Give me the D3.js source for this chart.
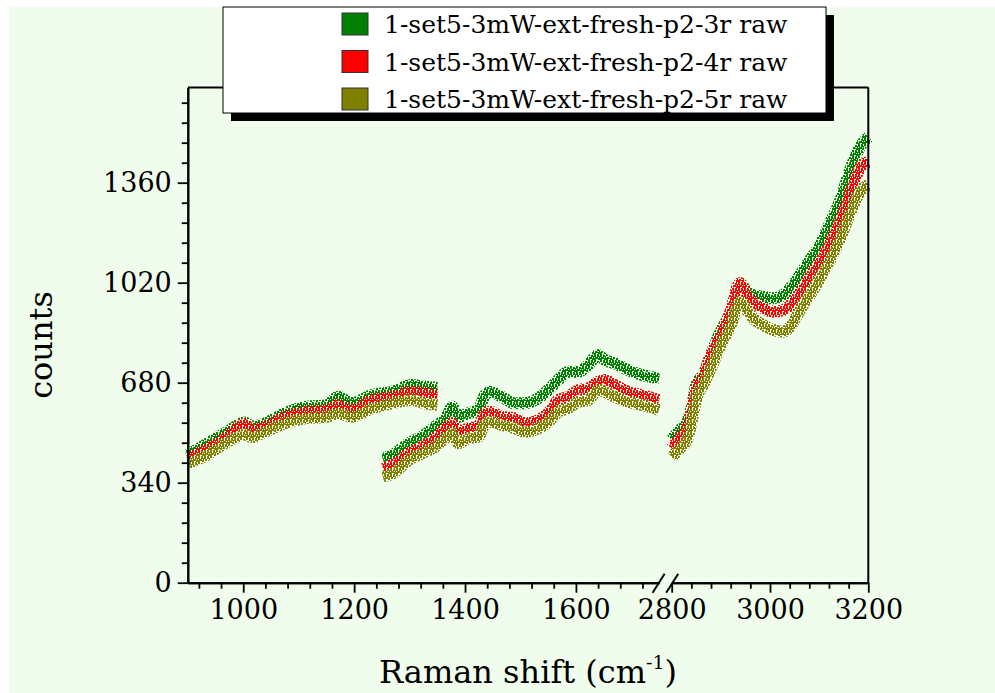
<!DOCTYPE html>
<html>
<head>
<meta charset="utf-8">
<script src="https://cdn.jsdelivr.net/npm/d3@7"></script>
<style>
  body { margin: 0; background: #fff; }
  svg { display: block; }
</style>
</head>
<body>
<svg id="chart" width="995" height="693"></svg>
<script>
// series
const seriesNames = [
    "1-set5-3mW-ext-fresh-p2-3r raw",
    "1-set5-3mW-ext-fresh-p2-4r raw",
    "1-set5-3mW-ext-fresh-p2-5r raw"
];
const seriesColors = ["#008000", "#ff0000", "#808000"];

// ticks
const yTicks = [0, 340, 680, 1020, 1360];
const xTicksLeft = [1000, 1200, 1400, 1600];
const xTicksRight = [2800, 3000, 3200];

// window A (900 - 1350 cm-1)
const wnA    = [900, 931, 967, 1003, 1015, 1039, 1075, 1111, 1151, 1171, 1196, 1232, 1268, 1304, 1328, 1350];
const greenA = [434, 468, 508, 545, 530, 542, 576, 598, 604, 632, 611, 638, 649, 672, 666, 662];
const redA   = [423, 451, 491, 540, 520, 530, 564, 581, 587, 604, 587, 621, 632, 649, 644, 638];
const oliveA = [406, 431, 474, 505, 495, 513, 542, 559, 564, 576, 564, 593, 610, 621, 610, 604];

// window B (1252 - 1750 cm-1)
const wnB    = [1252, 1274, 1298, 1322, 1346, 1367, 1377, 1388, 1406, 1424, 1436, 1445, 1466, 1490, 1508, 1532, 1550, 1568, 1586, 1604, 1622, 1640, 1652, 1670, 1694, 1719, 1750];
const greenB = [421, 440, 474, 496, 530, 564, 598, 564, 576, 587, 638, 649, 632, 610, 610, 627, 655, 689, 717, 717, 740, 774, 757, 746, 723, 706, 695];
const redB   = [389, 406, 440, 462, 491, 530, 542, 513, 525, 530, 576, 581, 564, 559, 542, 553, 576, 621, 632, 655, 661, 683, 689, 672, 649, 638, 621];
const oliveB = [360, 377, 417, 440, 462, 496, 508, 474, 491, 496, 542, 547, 536, 525, 513, 525, 547, 581, 593, 615, 621, 655, 649, 632, 615, 604, 587];

// window C (2800 - 3200 cm-1)
const wnC    = [2800, 2817, 2831, 2841, 2851, 2864, 2881, 2898, 2919, 2939, 2953, 2966, 2986, 3007, 3027, 3041, 3061, 3081, 3102, 3122, 3143, 3163, 3183, 3200];
const greenC = [486, 520, 547, 598, 678, 706, 780, 848, 916, 1018, 989, 978, 972, 967, 978, 1001, 1046, 1097, 1148, 1222, 1300, 1403, 1482, 1516];
const redC   = [457, 496, 525, 587, 666, 700, 780, 836, 916, 1018, 978, 955, 933, 921, 927, 944, 984, 1040, 1091, 1154, 1233, 1324, 1409, 1431];
const oliveC = [428, 457, 485, 553, 632, 672, 734, 802, 870, 955, 927, 899, 876, 859, 853, 870, 927, 978, 1035, 1097, 1171, 1256, 1329, 1352];

const svg = d3.select("#chart");
const font = "'DejaVu Serif', serif";

// speckle texture so the bands read like the raw scatter
const defs = svg.append("defs");
seriesColors.forEach(function(col, s) {
    [0, 1].forEach(function(k) {
        const pat = defs.append("pattern")
            .attr("id", "dots" + s + "_" + k)
            .attr("patternUnits", "userSpaceOnUse")
            .attr("patternTransform", k ? "translate(2,3)" : null)
            .attr("width", 6).attr("height", 6);
        [[0, 0], [3, 1], [1, 3], [4, 4], [5, 2]].forEach(function(p) {
            pat.append("rect")
                .attr("x", p[0]).attr("y", p[1])
                .attr("width", 2).attr("height", 2)
                .attr("fill", col);
        });
    });
});

// panel background
svg.append("rect")
    .attr("x", 9).attr("y", 7)
    .attr("width", 986).attr("height", 686)
    .attr("fill", "#f0fdec");

// broken x axis: two linear pieces
const xL = d3.scaleLinear().domain([900, 1750]).range([187.8, 659.1]);
const xR = d3.scaleLinear().domain([2800, 3200]).range([671.7, 868.3]);
const y = d3.scaleLinear().domain([0, 1684]).range([582.7, 87.4]);

const pieces = [
    { x: xL, wn: wnA, vals: [greenA, redA, oliveA] },
    { x: xL, wn: wnB, vals: [greenB, redB, oliveB] },
    { x: xR, wn: wnC, vals: [greenC, redC, oliveC] }
];

// data bands, drawn green -> red -> olive
const plot = svg.append("g");
seriesColors.forEach(function(col, s) {
    pieces.forEach(function(p) {
        const pts = p.wn.map(function(w, i) { return [w, p.vals[s][i]]; });
        const line = d3.line()
            .curve(d3.curveMonotoneX)
            .x(function(d) { return p.x(d[0]); })
            .y(function(d) { return y(d[1]); });
        // wide sparse speckle, then a denser inner speckle
        plot.append("path")
            .datum(pts)
            .attr("d", line)
            .attr("fill", "none")
            .attr("stroke", "url(#dots" + s + "_0)")
            .attr("stroke-width", 12)
            .attr("stroke-linejoin", "round");
        plot.append("path")
            .datum(pts)
            .attr("d", line)
            .attr("fill", "none")
            .attr("stroke", "url(#dots" + s + "_1)")
            .attr("stroke-width", 7)
            .attr("stroke-linejoin", "round");
    });
});

function minorTicks(lo, hi, step, majors) {
    return d3.range(lo, hi + 0.01, step).filter(function(v) { return majors.indexOf(v) < 0; });
}

function styleAxis(g) {
    g.selectAll("path").attr("stroke", "#000").attr("stroke-width", 2);
    g.selectAll("line").attr("stroke", "#000").attr("stroke-width", 1.8);
    g.selectAll("text").attr("font-family", font).attr("font-size", 27).attr("fill", "#000");
}

// y axis
const gy = svg.append("g").attr("transform", "translate(187.8,0)");
gy.append("g")
    .call(d3.axisLeft(y).tickValues(minorTicks(68, 1632, 68, yTicks)).tickSize(6).tickSizeOuter(0).tickFormat(""))
    .call(styleAxis);
gy.append("g")
    .call(d3.axisLeft(y).tickValues(yTicks).tickSize(10).tickSizeOuter(0).tickPadding(6).tickFormat(d3.format("d")))
    .call(styleAxis);

// x axis, left and right pieces
const gx = svg.append("g").attr("transform", "translate(0,582.7)");
gx.append("g")
    .call(d3.axisBottom(xL).tickValues(minorTicks(920, 1720, 40, xTicksLeft)).tickSize(6).tickSizeOuter(0).tickFormat(""))
    .call(styleAxis);
gx.append("g")
    .call(d3.axisBottom(xL).tickValues(xTicksLeft).tickSize(10).tickSizeOuter(0).tickPadding(7).tickFormat(d3.format("d")))
    .call(styleAxis);
gx.append("g")
    .call(d3.axisBottom(xR).tickValues(minorTicks(2840, 3160, 40, xTicksRight)).tickSize(6).tickSizeOuter(0).tickFormat(""))
    .call(styleAxis);
gx.append("g")
    .call(d3.axisBottom(xR).tickValues(xTicksRight).tickSize(10).tickSizeOuter(0).tickPadding(7).tickFormat(d3.format("d")))
    .call(styleAxis);

// break marks "//"
[xL.range()[1] - 0.5, xR.range()[0] + 0.5].forEach(function(bx) {
    gx.append("line")
        .attr("x1", bx - 6).attr("y1", 10)
        .attr("x2", bx + 6).attr("y2", -9)
        .attr("stroke", "#000").attr("stroke-width", 2);
});

// top and right frame
svg.append("line")
    .attr("x1", 187.8).attr("y1", 87.4).attr("x2", 868.3).attr("y2", 87.4)
    .attr("stroke", "#000").attr("stroke-width", 2);
svg.append("line")
    .attr("x1", 868.3).attr("y1", 87.4).attr("x2", 868.3).attr("y2", 582.7)
    .attr("stroke", "#000").attr("stroke-width", 2);

// axis titles
svg.append("text")
    .attr("transform", "translate(52,345) rotate(-90)")
    .attr("text-anchor", "middle")
    .attr("font-family", font).attr("font-size", 32)
    .text("counts");

const xt = svg.append("text")
    .attr("x", 528).attr("y", 683)
    .attr("text-anchor", "middle")
    .attr("font-family", font).attr("font-size", 32);
xt.append("tspan").text("Raman shift (cm");
xt.append("tspan").attr("font-size", 19).attr("dy", -14).text("-1");
xt.append("tspan").attr("dy", 14).text(")");

// legend with drop shadow
const lg = svg.append("g");
lg.append("rect")
    .attr("x", 231).attr("y", 15).attr("width", 603).attr("height", 106)
    .attr("fill", "#000");
lg.append("rect")
    .attr("x", 223).attr("y", 7).attr("width", 603).attr("height", 106)
    .attr("fill", "#fff").attr("stroke", "#000").attr("stroke-width", 1);

const items = lg.selectAll("g.item")
    .data(seriesNames)
    .enter().append("g")
    .attr("class", "item")
    .attr("transform", function(d, i) { return "translate(0," + (24 + i * 37.5) + ")"; });

items.append("rect")
    .attr("x", 342).attr("y", -11).attr("width", 26).attr("height", 22)
    .attr("fill", function(d, i) { return seriesColors[i]; })
    .attr("stroke", "#333").attr("stroke-width", 1);

items.append("text")
    .attr("x", 384).attr("y", 0)
    .attr("dy", "0.36em")
    .attr("font-family", font).attr("font-size", 25)
    .text(function(d) { return d; });
</script>
</body>
</html>
